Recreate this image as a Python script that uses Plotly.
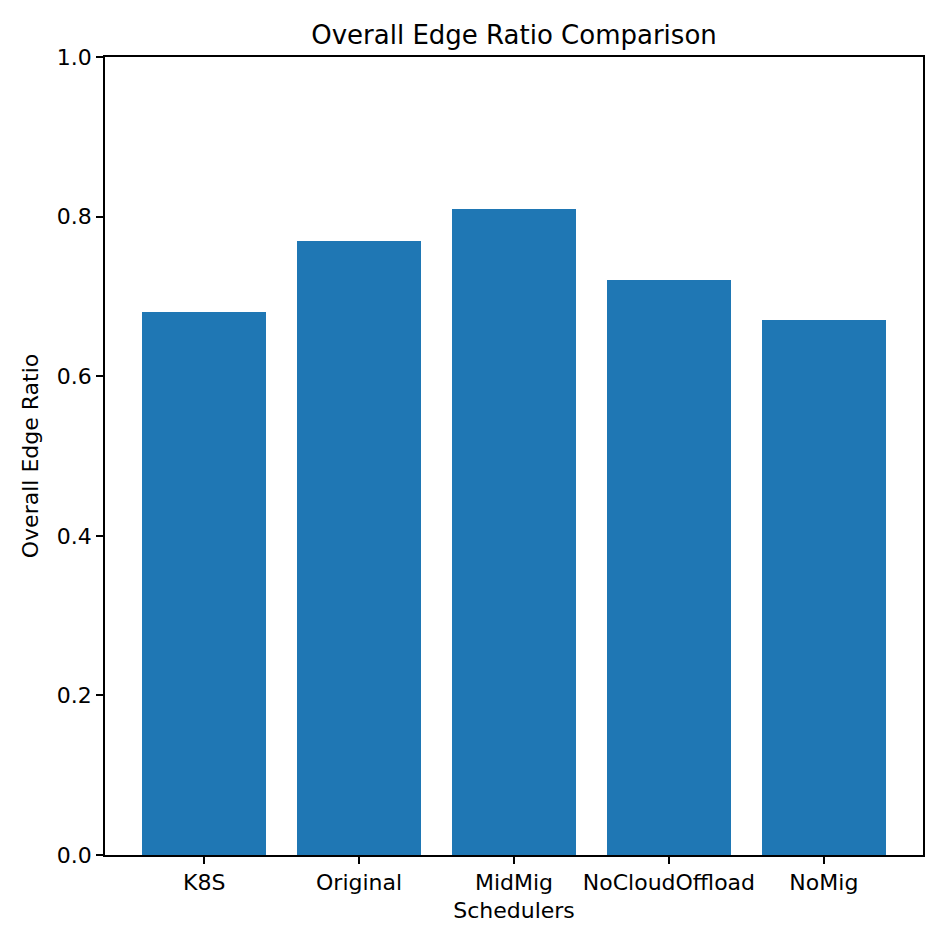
import plotly.graph_objects as go

schedulers = ["K8S", "Original", "MidMig", "NoCloudOffload", "NoMig"]
edge_ratio = [0.68, 0.77, 0.81, 0.72, 0.67]
y_ticks = [0.0, 0.2, 0.4, 0.6, 0.8, 1.0]
y_tick_labels = ["0.0", "0.2", "0.4", "0.6", "0.8", "1.0"]

font = "DejaVu Sans"

fig = go.Figure(
    go.Bar(
        x=list(range(len(schedulers))),
        y=edge_ratio,
        width=0.8,
        marker=dict(color="#1f77b4", line=dict(width=0)),
    )
)

axis_common = dict(
    showline=True,
    linecolor="black",
    linewidth=1.7,
    mirror=True,
    ticks="outside",
    ticklen=7,
    tickwidth=1.6,
    tickcolor="black",
    showgrid=False,
    zeroline=False,
    tickfont=dict(family=font, size=22, color="black"),
)

fig.update_layout(
    width=947,
    height=947,
    paper_bgcolor="white",
    plot_bgcolor="white",
    margin=dict(l=97, r=32, t=49, b=100),
    title=dict(
        text="Overall Edge Ratio Comparison",
        x=506 / 947,
        xanchor="center",
        y=1 - 27 / 947,
        yanchor="middle",
        font=dict(family=font, size=26, color="black"),
    ),
    showlegend=False,
    bargap=0,
)

fig.update_xaxes(
    range=[-0.64, 4.64],
    tickmode="array",
    tickvals=list(range(len(schedulers))),
    ticktext=schedulers,
    title=dict(text="Schedulers", font=dict(family=font, size=22, color="black"), standoff=8),
    **axis_common,
)
fig.update_yaxes(
    range=[0, 1.0],
    tickmode="array",
    tickvals=y_ticks,
    ticktext=y_tick_labels,
    title=dict(text="Overall Edge Ratio", font=dict(family=font, size=22, color="black"), standoff=12),
    **axis_common,
)

fig.write_html("out.html")
